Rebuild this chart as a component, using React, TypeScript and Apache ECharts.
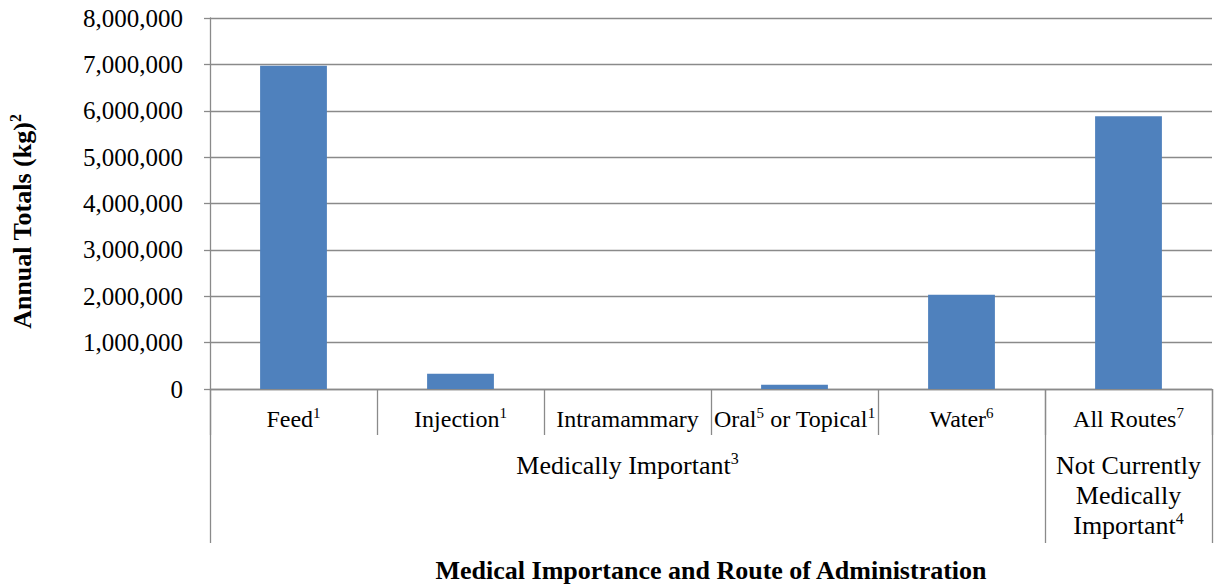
import React, { useEffect, useRef } from "react";
import * as echarts from "echarts";

const categories = ["Feed", "Injection", "Intramammary", "Oral or Topical", "Water", "All Routes"];
const categorySups = [["1"], ["1"], [], ["5", "1"], ["6"], ["7"]];
const values = [6970000, 330000, 0, 90000, 2030000, 5880000];
const groupLabels = ["", "", "Medically Important", "", "", "Not Currently\nMedically\nImportant"];
const groupSups = ["", "", "3", "", "", "4"];
const groupStarts = [0, 5];
const yTicks = [0, 1000000, 2000000, 3000000, 4000000, 5000000, 6000000, 7000000, 8000000];

const FONT = "Liberation Serif";
const GREY = "#8a8a8a";

function catLabel(_v: string, i: number): string {
  const name = categories[i];
  const sups = categorySups[i];
  if (name === "Oral or Topical") {
    return `{m|Oral}{s|${sups[0]}}{m| or Topical}{s|${sups[1]}}`;
  }
  return `{m|${name}}` + (sups.length ? `{s|${sups[0]}}` : "");
}

function groupLabel(_v: string, i: number): string {
  const t = groupLabels[i];
  if (!t) return "";
  const lines = t.split("\n");
  return lines
    .map((ln, k) => `{m|${ln}}` + (k === lines.length - 1 && groupSups[i] ? `{s|${groupSups[i]}}` : ""))
    .join("\n");
}

export default function App() {
  const ref = useRef<HTMLDivElement>(null);
  useEffect(() => {
    if (!ref.current) return;
    const chart = echarts.init(ref.current, null, { renderer: "svg" });
    chart.setOption({
      animation: false,
      textStyle: { fontFamily: FONT },
      grid: { left: 210, right: 2, top: 18, bottom: 197, containLabel: false, outerBoundsMode: "none" },
      xAxis: [
        {
          type: "category",
          data: categories,
          position: "bottom",
          axisLine: { show: true, lineStyle: { color: GREY, width: 1.3 } },
          axisTick: { show: true, length: 46, interval: 0, lineStyle: { color: GREY, width: 1.3 } },
          axisLabel: {
            interval: 0,
            margin: 16,
            formatter: catLabel,
            rich: {
              m: { fontFamily: FONT, fontSize: 24, lineHeight: 28, color: "#000" },
              s: { fontFamily: FONT, fontSize: 15, lineHeight: 15, verticalAlign: "top", color: "#000" },
            },
          },
          name: "Medical Importance and Route of Administration",
          nameLocation: "middle",
          nameGap: 168,
          nameTextStyle: { fontFamily: FONT, fontSize: 26, fontWeight: "bold", color: "#000" },
        },
        {
          type: "category",
          data: groupLabels,
          position: "bottom",
          offset: 0,
          axisLine: { show: false },
          axisTick: {
            show: true,
            length: 154,
            interval: (i: number) => groupStarts.includes(i),
            lineStyle: { color: GREY, width: 1.3 },
          },
          axisLabel: {
            interval: 0,
            margin: 61,
            formatter: groupLabel,
            rich: {
              m: { fontFamily: FONT, fontSize: 26, lineHeight: 30, color: "#000" },
              s: { fontFamily: FONT, fontSize: 16, lineHeight: 16, verticalAlign: "top", color: "#000" },
            },
          },
        },
      ],
      yAxis: {
        type: "value",
        min: yTicks[0],
        max: yTicks[yTicks.length - 1],
        interval: yTicks[1] - yTicks[0],
        axisLine: { show: true, lineStyle: { color: GREY, width: 1.3 } },
        axisTick: { show: true, length: 6, lineStyle: { color: GREY, width: 1.3 } },
        splitLine: { show: true, lineStyle: { color: GREY, width: 1.3 } },
        axisLabel: {
          margin: 27,
          fontFamily: FONT,
          fontSize: 25,
          color: "#000",
          formatter: (v: number) => v.toLocaleString("en-US"),
        },
        name: "{m|Annual Totals (kg)}{s|2}",
        nameLocation: "middle",
        nameGap: 173,
        nameRotate: 90,
        nameTextStyle: {
          padding: [0, 36, 0, 0],
          rich: {
            m: { fontFamily: FONT, fontSize: 26, fontWeight: "bold", lineHeight: 30, color: "#000" },
            s: { fontFamily: FONT, fontSize: 16, fontWeight: "bold", lineHeight: 16, verticalAlign: "top", color: "#000" },
          },
        },
      },
      series: [
        {
          type: "bar",
          data: values,
          xAxisIndex: 0,
          barWidth: "40%",
          itemStyle: { color: "#4f81bd" },
        },
      ],
    });
    return () => chart.dispose();
  }, []);
  return (
    <div
      ref={ref}
      style={{ position: "fixed", left: 0, top: 0, width: 1214, height: 586, background: "#fff" }}
    />
  );
}
